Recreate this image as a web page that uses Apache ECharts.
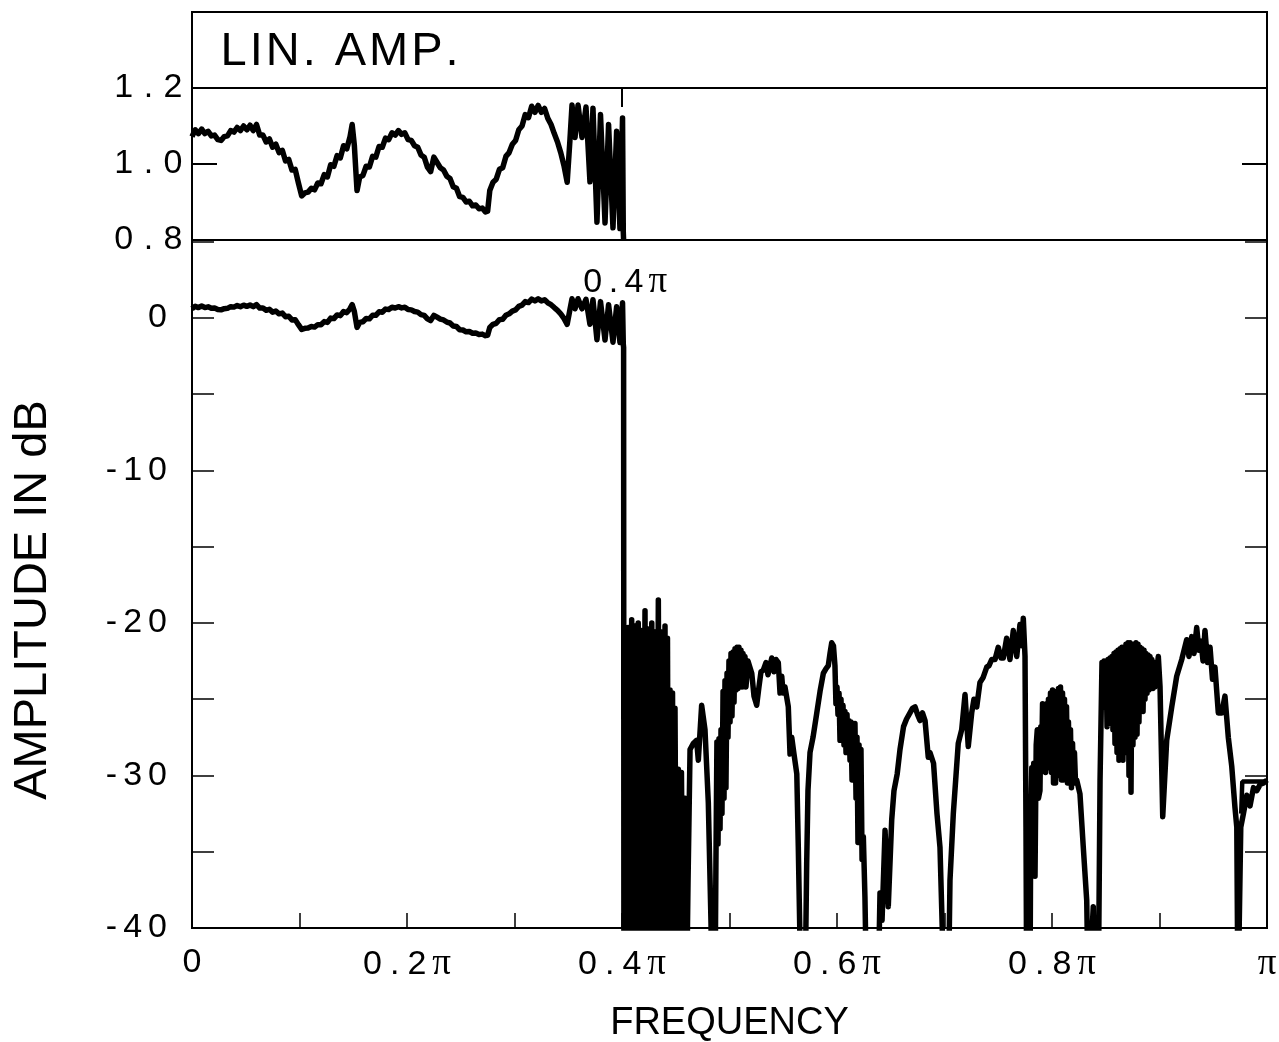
<!DOCTYPE html>
<html>
<head>
<meta charset="utf-8">
<script src="https://cdn.jsdelivr.net/npm/echarts@6/dist/echarts.min.js"></script>
<style>
  html, body { margin: 0; padding: 0; background: #fff; }
  #c { width: 1279px; height: 1042px; }
</style>
</head>
<body>
<div id="c"></div>
<script>
// ---------- DATA (frequency in units of pi) ----------
const passFreq = [
  0.000,0.003,0.006,0.009,0.012,0.015,0.018,0.021,0.024,0.027,
  0.030,0.033,0.036,0.039,0.042,0.045,0.048,0.051,0.054,0.057,
  0.060,0.063,0.066,0.069,0.072,0.075,0.078,0.081,0.084,0.087,
  0.090,0.093,0.096,0.099,0.102,0.105,0.108,0.111,0.114,0.117,
  0.120,0.123,0.126,0.129,0.132,0.135,0.138,0.141,0.144,0.147,
  0.149,0.151,0.1535,0.156,0.159,0.162,0.165,0.168,0.171,0.174,
  0.177,0.180,0.183,0.186,0.189,0.192,0.195,0.198,0.201,0.204,
  0.207,0.210,0.213,0.216,0.219,0.222,0.225,0.228,0.231,0.234,
  0.237,0.240,0.243,0.246,0.249,0.252,0.255,0.258,0.261,0.264,
  0.267,0.270,0.273,0.275,0.277,0.280,0.283,0.286,0.289,0.292,
  0.295,0.298,0.301,0.304,0.307,0.310,0.313,0.316,0.319,0.322,
  0.325,0.328,0.331,0.334,0.337,0.340,0.343,0.346,0.349,0.3515,
  0.3535,0.3563,0.3591,0.3628,0.3665,0.3702,0.3730,0.3767,0.3800,0.3842,
  0.3875,0.3916,0.3950,0.3981,0.4005,0.4012,0.4015
];
// linear amplitude (upper panel)
const passAmp = [
  1.072,1.090,1.080,1.092,1.080,1.086,1.074,1.076,1.064,1.062,
  1.072,1.074,1.088,1.084,1.096,1.088,1.100,1.090,1.102,1.088,
  1.104,1.076,1.076,1.058,1.066,1.044,1.052,1.030,1.036,1.008,
  1.012,0.984,0.986,0.950,0.916,0.924,0.926,0.936,0.932,0.950,
  0.948,0.972,0.966,0.998,0.994,1.022,1.016,1.048,1.040,1.072,
  1.104,1.050,0.930,0.966,0.970,0.994,0.992,1.020,1.018,1.046,
  1.044,1.068,1.064,1.082,1.076,1.088,1.078,1.082,1.064,1.062,
  1.048,1.044,1.024,1.018,0.992,0.980,1.018,1.004,0.990,0.984,
  0.968,0.962,0.940,0.936,0.914,0.912,0.900,0.902,0.890,0.892,
  0.882,0.884,0.874,0.876,0.930,0.952,0.960,0.986,0.990,1.020,
  1.030,1.052,1.062,1.090,1.100,1.130,1.122,1.152,1.136,1.154,
  1.136,1.146,1.120,1.104,1.080,1.058,1.030,0.996,0.952,1.060,
  1.155,1.070,1.155,1.070,1.150,0.953,1.147,0.847,1.130,0.845,
  1.104,0.832,1.086,0.830,1.121,0.820,0.800
];
// passband in dB (lower panel)
const passDb = [
  0.60,0.75,0.67,0.77,0.67,0.72,0.62,0.64,0.54,0.52,
  0.60,0.62,0.73,0.70,0.80,0.73,0.83,0.75,0.84,0.73,
  0.86,0.64,0.64,0.49,0.56,0.37,0.44,0.26,0.31,0.07,
  0.10,-0.14,-0.12,-0.45,-0.76,-0.69,-0.67,-0.57,-0.61,-0.45,
  -0.46,-0.25,-0.30,-0.02,-0.05,0.19,0.14,0.41,0.34,0.60,
  0.86,0.42,-0.63,-0.30,-0.26,-0.05,-0.07,0.17,0.16,0.39,
  0.37,0.57,0.54,0.69,0.64,0.73,0.65,0.69,0.54,0.52,
  0.41,0.37,0.21,0.16,-0.07,-0.18,0.16,0.04,-0.09,-0.14,
  -0.28,-0.34,-0.54,-0.57,-0.78,-0.80,-0.92,-0.90,-1.01,-0.99,
  -1.09,-1.07,-1.17,-1.15,-0.63,-0.43,-0.36,-0.12,-0.09,0.17,
  0.26,0.44,0.52,0.75,0.83,1.06,1.00,1.23,1.11,1.24,
  1.11,1.18,0.98,0.86,0.67,0.49,0.26,-0.04,-0.43,0.51,
  1.25,0.59,1.25,0.59,1.21,-0.42,1.19,-1.44,1.06,-1.46,
  0.86,-1.60,0.72,-1.62,0.99,-1.72,-1.94
];
// stopband in dB: [frequency/pi, dB]
const stopDb = [
  [0.4018,-45],[0.4028,-20.5],[0.4042,-45],[0.4056,-20.3],[0.4070,-45],[0.4090,-19.8],
  [0.4105,-45],[0.4121,-20.2],[0.4136,-45],[0.4151,-20.0],[0.4164,-45],[0.4177,-20.5],
  [0.4195,-45],[0.4214,-19.2],[0.4228,-45],[0.4242,-20.4],[0.4260,-45],[0.4277,-20.0],
  [0.4292,-45],[0.4307,-20.6],[0.4322,-45],[0.4338,-18.5],[0.4352,-45],[0.4367,-20.6],
  [0.4383,-45],[0.4400,-20.2],[0.4412,-45],[0.4423,-21.0],[0.4435,-45],[0.4447,-24.4],
  [0.4458,-45],[0.4470,-24.6],[0.4482,-45],[0.4493,-25.6],[0.4508,-45],[0.4524,-29.6],
  [0.4538,-45],[0.4553,-29.8],[0.4570,-45],[0.4586,-31.5],[0.4600,-45],[0.4614,-37.1],
  [0.4633,-28.3],[0.4663,-27.9],[0.4694,-27.7],[0.4710,-29.0],[0.4741,-25.4],[0.4772,-27.0],
  [0.4803,-31.8],[0.4828,-39.7],[0.4837,-45],[0.4865,-45],
  [0.4874,-35.5],[0.4883,-27.8],[0.4893,-34.5],[0.4902,-27.6],[0.4912,-33.5],[0.4921,-27.0],
  [0.4930,-32.5],[0.4940,-24.5],[0.4949,-31.5],[0.4958,-23.8],[0.4967,-30.8],[0.4977,-23.3],
  [0.4986,-27.5],[0.4995,-22.5],[0.5005,-26.5],[0.5014,-22.0],[0.5023,-26.1],[0.5033,-21.9],
  [0.5042,-25.2],[0.5051,-21.7],[0.5061,-24.4],[0.5070,-21.6],[0.5079,-24.3],[0.5088,-21.6],
  [0.5098,-24.0],[0.5107,-21.8],[0.5116,-24.2],[0.5126,-22.0],[0.5135,-24.0],[0.5144,-22.2],
  [0.5153,-24.2],[0.5172,-22.5],
  [0.5207,-23.3],[0.5228,-24.8],[0.5253,-25.4],[0.5274,-24.2],[0.5293,-23.2],[0.5314,-23.1],
  [0.5340,-22.6],[0.5358,-23.4],[0.5393,-22.3],[0.5414,-23.2],[0.5433,-22.4],[0.5454,-22.6],
  [0.5470,-24.6],[0.5486,-23.5],[0.5498,-24.6],[0.5516,-24.2],[0.5547,-25.5],[0.5563,-28.6],
  [0.5579,-27.5],[0.5600,-28.6],[0.5626,-29.9],[0.5640,-34.7],[0.5656,-41],[0.5702,-45],
  [0.5718,-35.8],[0.5730,-31.0],[0.5749,-28.5],[0.5777,-27.5],[0.5812,-25.9],[0.5842,-24.5],
  [0.5873,-23.3],[0.5898,-23.0],[0.5919,-22.8],[0.5935,-22.0],[0.5951,-21.3],[0.5967,-21.5],
  [0.5981,-22.8],[0.5990,-25.3],[0.6000,-24.2],[0.6009,-26.0],[0.6019,-24.6],[0.6028,-27.7],
  [0.6037,-25.0],[0.6047,-27.0],[0.6056,-25.4],[0.6065,-28.0],[0.6074,-25.8],[0.6084,-28.5],
  [0.6093,-26.0],[0.6102,-28.0],[0.6112,-26.4],[0.6121,-29.0],[0.6130,-26.5],[0.6140,-30.3],
  [0.6149,-26.8],[0.6158,-29.5],[0.6167,-26.6],[0.6177,-31.5],[0.6186,-27.5],[0.6195,-34.4],
  [0.6205,-28.0],[0.6214,-33.0],[0.6223,-28.3],[0.6233,-35.5],[0.6245,-34.0],[0.6260,-38.0],
  [0.6277,-45],
  [0.6326,-45],[0.6381,-45],[0.6400,-37.7],[0.6419,-39.5],[0.6447,-33.6],[0.6477,-38.6],
  [0.6509,-32.9],[0.6530,-31.0],[0.6560,-29.9],[0.6586,-28.3],[0.6619,-26.8],[0.6647,-26.3],
  [0.6679,-25.9],[0.6702,-25.6],[0.6726,-25.5],[0.6749,-26.0],[0.6772,-26.4],[0.6795,-25.9],
  [0.6819,-26.4],[0.6849,-28.8],[0.6865,-28.5],[0.6898,-29.2],[0.6930,-32.5],[0.6958,-34.7],
  [0.6983,-41],[0.7035,-45],[0.7051,-36.9],[0.7082,-32.5],[0.7107,-30.0],[0.7128,-27.9],
  [0.7160,-27.0],[0.7191,-24.7],[0.7221,-28.1],[0.7253,-25.9],[0.7274,-25.0],[0.7300,-25.5],
  [0.7330,-23.9],[0.7358,-23.6],[0.7393,-22.9],[0.7414,-22.8],[0.7439,-22.4],[0.7470,-22.4],
  [0.7500,-21.6],[0.7526,-22.3],[0.7547,-22.3],[0.7578,-21.0],[0.7609,-22.4],[0.7640,-20.5],
  [0.7672,-22.2],[0.7702,-20.1],[0.7721,-21.5],[0.7733,-19.7],[0.7749,-22.2],[0.7758,-33.4],
  [0.7765,-45],[0.7795,-45],
  [0.7802,-33.4],[0.7812,-29.5],[0.7821,-31.0],[0.7830,-29.2],[0.7842,-36.6],[0.7853,-28.0],
  [0.7863,-27.0],[0.7874,-31.5],[0.7888,-31.0],[0.7896,-26.8],[0.7904,-29.0],[0.7912,-25.3],
  [0.7921,-29.4],[0.7930,-25.5],[0.7940,-29.8],[0.7949,-25.3],[0.7958,-29.0],[0.7967,-25.0],
  [0.7977,-29.5],[0.7986,-24.6],[0.7995,-29.8],[0.8005,-24.4],[0.8014,-30.5],[0.8023,-24.8],
  [0.8033,-30.5],[0.8042,-24.5],[0.8051,-30.0],[0.8060,-24.3],[0.8070,-29.5],[0.8079,-24.2],
  [0.8088,-30.3],[0.8098,-24.6],[0.8107,-30.3],[0.8116,-25.0],[0.8126,-30.0],[0.8135,-25.5],
  [0.8144,-30.5],[0.8153,-26.5],[0.8163,-30.5],[0.8172,-27.0],[0.8181,-30.8],[0.8191,-27.9],
  [0.8200,-30.3],[0.8209,-28.5],[0.8219,-30.5],[0.8230,-30.3],[0.8260,-31.2],[0.8291,-34.7],
  [0.8323,-38.2],[0.8338,-45],
  [0.8384,-38.6],[0.8400,-45],[0.8430,-45],
  [0.8447,-30.3],[0.8465,-22.6],[0.8475,-25.0],[0.8484,-22.5],[0.8493,-25.5],[0.8503,-22.5],
  [0.8512,-26.8],[0.8521,-22.4],[0.8530,-26.5],[0.8540,-22.3],[0.8549,-26.6],[0.8558,-22.2],
  [0.8567,-27.0],[0.8577,-22.0],[0.8586,-27.9],[0.8595,-21.9],[0.8605,-28.5],[0.8614,-21.8],
  [0.8623,-29.0],[0.8633,-21.7],[0.8642,-28.0],[0.8651,-21.6],[0.8660,-29.0],[0.8670,-21.6],
  [0.8679,-28.5],[0.8688,-21.4],[0.8698,-27.5],[0.8707,-21.3],[0.8716,-30.0],[0.8726,-21.3],
  [0.8735,-31.1],[0.8744,-21.4],[0.8753,-28.0],[0.8763,-21.5],[0.8772,-27.5],[0.8781,-21.3],
  [0.8791,-27.3],[0.8800,-21.4],[0.8809,-26.5],[0.8819,-21.6],[0.8828,-25.7],[0.8837,-21.7],
  [0.8847,-25.8],[0.8856,-21.8],[0.8865,-25.0],[0.8874,-22.0],[0.8884,-24.6],[0.8893,-22.1],
  [0.8902,-24.4],[0.8912,-22.2],[0.8921,-24.2],[0.8930,-22.4],[0.8940,-24.3],[0.8949,-22.6],
  [0.8958,-24.2],[0.8989,-22.2],[0.9005,-24.2],
  [0.9030,-32.7],[0.9067,-27.7],[0.9114,-25.5],[0.9160,-23.5],[0.9207,-22.4],
  [0.9228,-21.8],[0.9253,-21.1],[0.9274,-22.2],[0.9300,-20.9],[0.9321,-22.0],[0.9346,-20.3],
  [0.9367,-21.8],[0.9386,-21.2],[0.9405,-22.5],[0.9423,-20.5],[0.9447,-22.6],[0.9470,-21.6],
  [0.9493,-23.7],[0.9516,-22.9],[0.9547,-25.9],[0.9579,-25.9],[0.9609,-24.8],[0.9640,-27.5],
  [0.9672,-29.4],[0.9702,-32.1],[0.9719,-33.4],[0.9730,-45],[0.9744,-45],[0.9756,-33.4],
  [0.9781,-32.5],[0.9812,-31.3],[0.9842,-32.0],[0.9874,-30.8],[0.9905,-31.0],[0.9935,-30.6],
  [0.9967,-30.5],[1.0000,-30.3]
];
// short closing segment at the right end of the stopband
const tailDb = [[0.9760,-32.5],[0.9770,-30.4],[1.0000,-30.4]];

const ampTickLabels = [0.8, 1.0, 1.2];
const dbTickLabels = [0, -10, -20, -30, -40];
const freqTickLabels = {0: '0', 2: '0.2π', 4: '0.4π', 6: '0.6π', 8: '0.8π', 10: 'π'};
const passEdge = 0.4;

// ---------- CHART ----------
const FONT = 'Liberation Sans, Arial, Helvetica, sans-serif';
const SERIF = 'Liberation Serif, Times New Roman, serif';

// letter-spaced rich text (the original lettering is widely tracked)
function spaced(str, key) {
  key = key || 'c';
  return str.split('').map(function (ch) {
    if (ch === 'π') return '{p|π}';
    if (ch === '.') return '{' + key + 'd|.}';
    return '{' + key + '|' + ch + '}';
  }).join('');
}
function richSet(size, pad, dotPad) {
  return {
    c: {fontFamily: FONT, fontSize: size, color: '#000', padding: [0, pad, 0, pad]},
    cd: {fontFamily: FONT, fontSize: size, color: '#000', padding: [0, dotPad, 0, dotPad]},
    p: {fontFamily: SERIF, fontSize: size + 3, color: '#000', padding: [0, pad, 0, pad]}
  };
}

const chart = echarts.init(document.getElementById('c'), null, {renderer: 'canvas'});

const ampData = passFreq.map((f, i) => [f, passAmp[i]]);
const dbData = passFreq.map((f, i) => [f, passDb[i]]).concat(stopDb);

const axisLineStyle = {show: true, onZero: false, lineStyle: {color: '#000', width: 2}};

const option = {
  animation: false,
  backgroundColor: '#fff',
  title: {
    text: spaced('LIN. AMP.', 'c'), left: 214, top: 24,
    textStyle: {fontFamily: FONT, fontSize: 47, fontWeight: 'normal', color: '#000',
      rich: richSet(47, 1.5, 1.5)}
  },
  graphic: [{
    type: 'text', x: 33, y: 600, rotation: Math.PI / 2,
    style: {text: 'AMPLITUDE IN dB', fontFamily: FONT, fontSize: 47, fill: '#000',
      align: 'center', verticalAlign: 'middle', textAlign: 'center', textVerticalAlign: 'middle'}
  }],
  grid: [
    {left: 192, right: 12, top: 12, height: 228, show: true, borderColor: '#000', borderWidth: 2,
     containLabel: false, outerBoundsMode: 'none'},
    {left: 192, right: 12, top: 240, bottom: 114, show: true, borderColor: '#000', borderWidth: 2,
     containLabel: false, outerBoundsMode: 'none'}
  ],
  xAxis: [
    {gridIndex: 0, type: 'value', min: 0, max: 1, interval: 0.1,
     axisLine: axisLineStyle, axisTick: {show: false}, axisLabel: {show: false}, splitLine: {show: false}},
    {gridIndex: 1, type: 'value', min: 0, max: 1, interval: 0.1,
     axisLine: axisLineStyle,
     axisTick: {show: true, inside: true, length: 15, lineStyle: {color: '#000', width: 1.5}},
     axisLabel: {
       show: true, margin: 18, color: '#000', fontFamily: FONT, fontSize: 34,
       formatter: function (v) { const k = Math.round(v * 10); return freqTickLabels[k] !== undefined ? spaced(freqTickLabels[k]) : ''; },
       rich: richSet(34, 3, 5)
     },
     splitLine: {show: false},
     name: 'FREQUENCY', nameLocation: 'middle', nameGap: 77,
     nameTextStyle: {fontFamily: FONT, fontSize: 38, color: '#000'}
    }
  ],
  yAxis: [
    {gridIndex: 0, type: 'value', min: 0.8, max: 1.4, interval: 0.2, position: 'left',
     axisLine: axisLineStyle,
     axisTick: {show: true, inside: true, length: 25, lineStyle: {color: '#000', width: 2}},
     axisLabel: {show: true, margin: 6, color: '#000', fontFamily: FONT, fontSize: 34,
       formatter: function (v) { return ampTickLabels.some(t => Math.abs(t - v) < 1e-6) ? spaced(v.toFixed(1)) : ''; },
       rich: richSet(34, 3.5, 7)},
     splitLine: {show: false}},
    {gridIndex: 0, type: 'value', min: 0.8, max: 1.4, interval: 0.2, position: 'right',
     axisLine: axisLineStyle,
     axisTick: {show: true, inside: true, length: 25, lineStyle: {color: '#000', width: 2}},
     axisLabel: {show: false}, splitLine: {show: false}},
    {gridIndex: 1, type: 'value', min: -40, max: 5.1, interval: 5, position: 'left',
     axisLine: axisLineStyle,
     axisTick: {show: true, inside: true, length: 22, lineStyle: {color: '#000', width: 1.5}},
     axisLabel: {show: true, margin: 22, color: '#000', fontFamily: FONT, fontSize: 34,
       formatter: function (v) { const r = Math.round(v); return dbTickLabels.indexOf(r) >= 0 && Math.abs(v - r) < 1e-6 ? spaced(String(r)) : ''; },
       rich: richSet(34, 3, 7)},
     splitLine: {show: false}},
    {gridIndex: 1, type: 'value', min: -40, max: 5.1, interval: 5, position: 'right',
     axisLine: axisLineStyle,
     axisTick: {show: true, inside: true, length: 22, lineStyle: {color: '#000', width: 1.5}},
     axisLabel: {show: false}, splitLine: {show: false}}
  ],
  series: [
    {
      type: 'line', xAxisIndex: 0, yAxisIndex: 0, data: ampData, showSymbol: false, symbol: 'none',
      lineStyle: {color: '#000', width: 5.5, join: 'round'}, clip: true, silent: true,
      markLine: {
        silent: true, symbol: 'none', label: {show: false},
        lineStyle: {color: '#000', width: 2, type: 'solid'},
        data: [
          {yAxis: 1.2},
          [{coord: [passEdge, 1.2]}, {coord: [passEdge, 1.15]}]
        ]
      }
    },
    {
      type: 'line', xAxisIndex: 1, yAxisIndex: 2, data: dbData, showSymbol: false, symbol: 'none',
      lineStyle: {color: '#000', width: 5.5, join: 'round'}, clip: true, silent: true,
      markPoint: {
        silent: true, symbol: 'circle', symbolSize: 1, itemStyle: {color: 'rgba(0,0,0,0)'},
        data: [{coord: [passEdge + 0.003, 2.3],
          label: {show: true, position: 'inside', formatter: spaced('0.4π'), color: '#000',
                  fontFamily: FONT, fontSize: 34, rich: richSet(34, 2.5, 4)}}]
      }
    },
    {
      type: 'line', xAxisIndex: 1, yAxisIndex: 2, data: tailDb, showSymbol: false, symbol: 'none',
      lineStyle: {color: '#000', width: 4.5}, clip: true, silent: true
    }
  ]
};
chart.setOption(option);
</script>
</body>
</html>
